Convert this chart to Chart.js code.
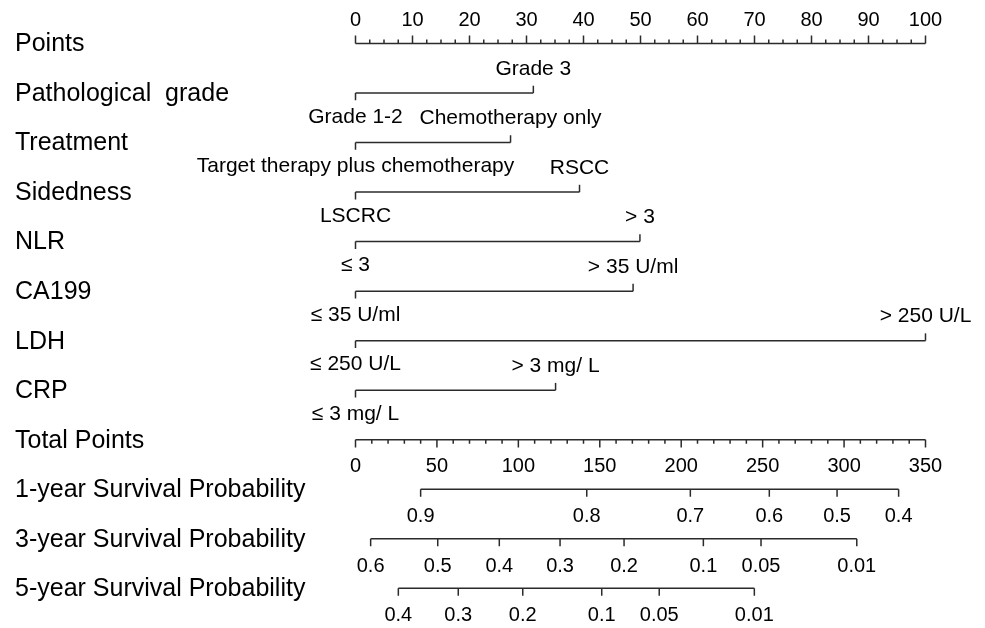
<!DOCTYPE html>
<html>
<head>
<meta charset="utf-8">
<script src="https://cdn.jsdelivr.net/npm/chart.js@4.4.1/dist/chart.umd.min.js"></script>
<style>
  html, body { margin: 0; padding: 0; background: #fff; }
  canvas { display: block; }
</style>
</head>
<body>
<canvas id="nomo" width="985" height="628"></canvas>
<script>
// rows, top to bottom
const rowNames = ['Points', 'Pathological  grade', 'Treatment', 'Sidedness', 'NLR', 'CA199', 'LDH', 'CRP',
   'Total Points', '1-year Survival Probability', '3-year Survival Probability', '5-year Survival Probability'];

// axes
const pointTicks = [0, 10, 20, 30, 40, 50, 60, 70, 80, 90, 100];
const totalTicks = [0, 50, 100, 150, 200, 250, 300, 350];

// predictors: level labels and their points
const gradeLevels = ['Grade 1-2', 'Grade 3'];
const gradePoints = [0, 31.2];
const treatmentLevels = ['Target therapy plus chemotherapy', 'Chemotherapy only'];
const treatmentPoints = [0, 27.2];
const sidednessLevels = ['LSCRC', 'RSCC'];
const sidednessPoints = [0, 39.3];
const nlrLevels = ['≤ 3', '> 3'];
const nlrPoints = [0, 49.9];
const ca199Levels = ['≤ 35 U/ml', '> 35 U/ml'];
const ca199Points = [0, 48.7];
const ldhLevels = ['≤ 250 U/L', '> 250 U/L'];
const ldhPoints = [0, 100];
const crpLevels = ['≤ 3 mg/ L', '> 3 mg/ L'];
const crpPoints = [0, 35.1];

// survival scales, positions in total points
const surv1Labels = ['0.9', '0.8', '0.7', '0.6', '0.5', '0.4'];
const surv1Points = [40.0, 142.0, 205.6, 254.1, 295.7, 333.5];
const surv3Labels = ['0.6', '0.5', '0.4', '0.3', '0.2', '0.1', '0.05', '0.01'];
const surv3Points = [9.3, 50.5, 88.3, 125.6, 164.9, 213.6, 249.0, 307.8];
const surv5Labels = ['0.4', '0.3', '0.2', '0.1', '0.05', '0.01'];
const surv5Points = [26.3, 63.1, 102.7, 151.2, 186.5, 244.9];

const LINE = '#2b2b2b';
const FONT = "'Liberation Sans', Arial, sans-serif";
const PAD = { left: 355.5, right: 59.5, top: 43.5, bottom: 39.7 };
const ROW_PX = (628 - PAD.top - PAD.bottom) / (rowNames.length - 1);

const datasets = [];
const texts = [];

function addLine(axis, row, from, to) {
   datasets.push({ xAxisID: axis, data: [{ x: from, y: row }, { x: to, y: row }] });
}

// dir: -1 = up, 1 = down; len in px
function addTicks(axis, row, xs, len, dir) {
   const d = [];
   xs.forEach(x => d.push({ x: x, y: row }, { x: x, y: row + dir * len / ROW_PX }, { x: null, y: null }));
   datasets.push({ xAxisID: axis, data: d });
}

function minorTicks(major, parts) {
   const out = [];
   for (let i = 0; i < major.length - 1; i++)
      for (let k = 1; k < parts; k++)
         out.push(major[i] + (major[i + 1] - major[i]) * k / parts);
   return out;
}

// Points axis
addLine('x', 0, pointTicks[0], pointTicks[pointTicks.length - 1]);
addTicks('x', 0, pointTicks, 8, -1);
addTicks('x', 0, minorTicks(pointTicks, 4), 4, -1);
pointTicks.forEach(v => texts.push({ axis: 'x', x: v, row: 0, text: String(v), dy: -23.5, size: 20 }));

// predictors
const predictors = [
   [gradeLevels, gradePoints], [treatmentLevels, treatmentPoints], [sidednessLevels, sidednessPoints],
   [nlrLevels, nlrPoints], [ca199Levels, ca199Points], [ldhLevels, ldhPoints], [crpLevels, crpPoints]
];

predictors.forEach((p, i) => {
   const row = i + 1;
   const levels = p[0], pts = p[1];
   addLine('x', row, pts[0], pts[1]);
   addTicks('x', row, [pts[0]], 7.3, 1);
   addTicks('x', row, [pts[1]], 7.3, -1);
   texts.push({ axis: 'x', x: pts[0], row: row, text: levels[0], dy: 24, size: 21 });
   texts.push({ axis: 'x', x: pts[1], row: row, text: levels[1], dy: -24, size: 21 });
});

// Total points axis
addLine('x2', 8, totalTicks[0], totalTicks[totalTicks.length - 1]);
addTicks('x2', 8, totalTicks, 7.7, 1);
addTicks('x2', 8, minorTicks(totalTicks, 5), 4, 1);
totalTicks.forEach(v => texts.push({ axis: 'x2', x: v, row: 8, text: String(v), dy: 27, size: 20 }));

// survival axes
[[surv1Labels, surv1Points], [surv3Labels, surv3Points], [surv5Labels, surv5Points]].forEach((s, i) => {
   const row = 9 + i;
   const labels = s[0], pts = s[1];
   addLine('x2', row, Math.min(...pts), Math.max(...pts));
   addTicks('x2', row, pts, 7.5, 1);
   pts.forEach((v, j) => texts.push({ axis: 'x2', x: v, row: row, text: labels[j], dy: 27.5, size: 20 }));
});

datasets.forEach(ds => {
   ds.showLine = true;
   ds.pointRadius = 0;
   ds.pointHoverRadius = 0;
   ds.borderColor = LINE;
   ds.borderWidth = 1.5;
   ds.spanGaps = false;
   ds.clip = false;
});

const nomoText = {
   id: 'nomoText',
   afterDatasetsDraw(chart) {
      const { ctx, scales } = chart;
      ctx.save();
      ctx.fillStyle = '#000';
      ctx.textBaseline = 'middle';

      ctx.textAlign = 'left';
      ctx.font = '25px ' + FONT;
      rowNames.forEach((name, i) => ctx.fillText(name, 15, scales.y.getPixelForValue(i) + 1));

      ctx.textAlign = 'center';
      texts.forEach(t => {
         ctx.font = t.size + 'px ' + FONT;
         ctx.fillText(t.text, scales[t.axis].getPixelForValue(t.x), scales.y.getPixelForValue(t.row) + t.dy);
      });
      ctx.restore();
   }
};

new Chart(document.getElementById('nomo').getContext('2d'), {
   type: 'scatter',
   data: { datasets: datasets },
   options: {
      responsive: false,
      animation: false,
      events: [],
      layout: { padding: PAD },
      scales: {
         x: { type: 'linear', min: 0, max: 100, display: false },
         x2: { type: 'linear', axis: 'x', min: 0, max: 350, display: false },
         y: { type: 'linear', min: 0, max: rowNames.length - 1, reverse: true, display: false }
      },
      plugins: {
         legend: { display: false },
         tooltip: { enabled: false }
      }
   },
   plugins: [nomoText]
});
</script>
</body>
</html>
